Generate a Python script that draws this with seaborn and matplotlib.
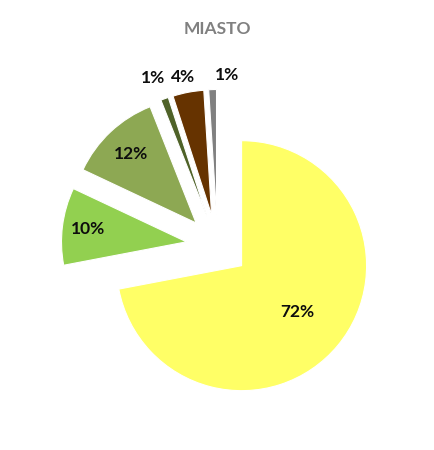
import matplotlib
matplotlib.use("Agg")
import numpy as np
import matplotlib.pyplot as plt
import seaborn as sns

# dane
values = [72, 10, 12, 1, 4, 1]
colors = ["#FFFF66", "#92D050", "#8DA853", "#4F6228", "#663300", "#808080"]
title = "MIASTO"

# polozenie etykiet (odleglosc od srodka wycinka, korekta kata)
label_dist = [0.58, 0.79, 0.76, 1.19, 1.13, 1.12]
label_shift = [0, 0, 0, 1.5, 0.8, -6]

sns.set_theme(style="white")
plt.rcParams['font.family'] = ['Lato', 'DejaVu Sans']

fig = plt.figure(figsize=(4.35, 4.5), dpi=100)
ax = fig.add_axes([0, 0, 1, 1])

wedges, _ = ax.pie(values, colors=colors, startangle=90, counterclock=False,
                   explode=[0.25] * len(values), radius=1,
                   wedgeprops=dict(edgecolor="white", linewidth=0.8))

for w, v, d, s in zip(wedges, values, label_dist, label_shift):
    mid = np.deg2rad((w.theta1 + w.theta2) / 2 + s)
    cx, cy = w.center
    ax.text(cx + d * np.cos(mid), cy + d * np.sin(mid), f"{v}%",
            ha="center", va="center", fontsize=12.5, fontweight="bold",
            color="#0D0D0D")

ax.set_xlim(-1.74, 1.74)
ax.set_ylim(-1.634, 1.966)
ax.set_aspect("equal")
ax.axis("off")

fig.text(0.5, 1 - 28.7 / 450, title, ha="center", va="center",
         color="#808080", fontsize=12.5, fontweight="bold")

fig.savefig("out.png", dpi=100, facecolor="white")
